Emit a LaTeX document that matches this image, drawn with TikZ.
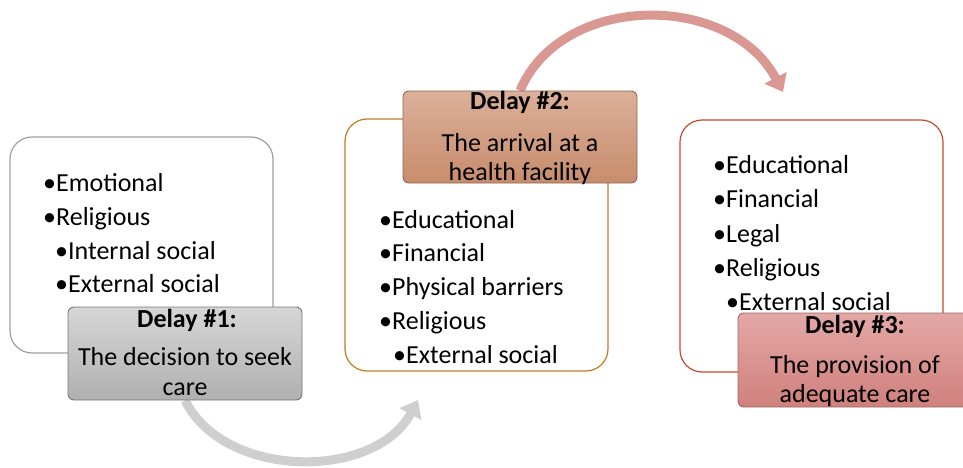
\documentclass[tikz,border=0pt]{standalone}
\usepackage{fontspec}
\setmainfont{Carlito}
\usetikzlibrary{arrows.meta,backgrounds}
\definecolor{bordA}{HTML}{A0A0A0}
\definecolor{bordB}{HTML}{C27A25}
\definecolor{bordC}{HTML}{C24C28}
\definecolor{dAtop}{HTML}{D6D6D6}
\definecolor{dAbot}{HTML}{B0B0B0}
\definecolor{dAdraw}{HTML}{777777}
\definecolor{dBtop}{HTML}{DCB09A}
\definecolor{dBbot}{HTML}{C78C6C}
\definecolor{dBdraw}{HTML}{8A6A5A}
\definecolor{dCtop}{HTML}{E4A8A6}
\definecolor{dCbot}{HTML}{CF807C}
\definecolor{dCdraw}{HTML}{9A6A6A}
\definecolor{arrG}{HTML}{CFCFCF}
\definecolor{arrP}{HTML}{DA9893}
\begin{document}
\begin{tikzpicture}[x=1pt,y=-1pt,
  bigbox/.style={draw=#1, rounded corners=22pt, fill=white, line width=1.2pt, inner sep=0pt},
  delaybox/.style={rounded corners=6pt, line width=0.9pt, inner sep=0pt},
  item/.style={anchor=base west, inner sep=0pt, font=\fontsize{26}{31}\selectfont},
  dtitle/.style={anchor=base, inner sep=0pt, font=\fontsize{26}{31}\selectfont\bfseries},
  dtext/.style={anchor=base, inner sep=0pt, font=\fontsize{26}{31}\selectfont},
  flow/.style={line width=9pt, -{Triangle[width=24pt,length=16pt]}}]
\useasboundingbox (0,0) rectangle (963,468);

% big boxes
\node[bigbox=bordA, minimum width=263pt, minimum height=216pt] (b1) at (141.5,245) {};
\node[bigbox=bordB, minimum width=263pt, minimum height=252pt] (b2) at (476.5,245) {};
\node[bigbox=bordC, minimum width=263pt, minimum height=252pt] (b3) at (811.5,246) {};

% box 1 items
\node[item] (i11) at (43,191) {\textbullet Emotional};
\node[item] (i12) at (43,225) {\textbullet Religious};
\node[item] (i13) at (55,259) {\textbullet Internal social};
\node[item] (i14) at (55,292) {\textbullet External social};

% box 2 items
\node[item] (i21) at (379,228) {\textbullet Educational};
\node[item] (i22) at (379,261) {\textbullet Financial};
\node[item] (i23) at (379,295) {\textbullet Physical barriers};
\node[item] (i24) at (379,329) {\textbullet Religious};
\node[item] (i25) at (393,363) {\textbullet External social};

% box 3 items
\node[item] (i31) at (713,173) {\textbullet Educational};
\node[item] (i32) at (713,207) {\textbullet Financial};
\node[item] (i33) at (713,242) {\textbullet Legal};
\node[item] (i34) at (713,276) {\textbullet Religious};
\node[item] (i35) at (726,310) {\textbullet External social};

% delay boxes
\node[delaybox, draw=dAdraw, top color=dAtop, bottom color=dAbot, minimum width=234pt, minimum height=93pt] (d1) at (185,353.5) {};
\node[delaybox, draw=dBdraw, top color=dBtop, bottom color=dBbot, minimum width=234pt, minimum height=92pt] (d2) at (520,137) {};
\node[delaybox, draw=dCdraw, top color=dCtop, bottom color=dCbot, minimum width=234pt, minimum height=94pt] (d3) at (855,360) {};

\node[dtitle] (t1) at (187,327) {Delay \#1:};
\node[dtext] (t1a) at (185,365) {The decision to seek};
\node[dtext] (t1b) at (185,395) {care};

\node[dtitle] (t2) at (520,110) {Delay \#2:};
\node[dtext] (t2a) at (520,151) {The arrival at a};
\node[dtext] (t2b) at (520,180) {health facility};

\node[dtitle] (t3) at (855,333) {Delay \#3:};
\node[dtext] (t3a) at (855,373) {The provision of};
\node[dtext] (t3b) at (855,402) {adequate care};

% arrows
\coordinate (g2) at (418,400);
\coordinate (p2) at (783,92);
\begin{pgfonlayer}{background}
\draw[flow, arrG] (d1.south) .. controls (225,480) and (375,480) .. (g2);
\draw[flow, arrP] (d2.north) .. controls (562,-8) and (730,-8) .. (p2);
\end{pgfonlayer}
\end{tikzpicture}
\end{document}
